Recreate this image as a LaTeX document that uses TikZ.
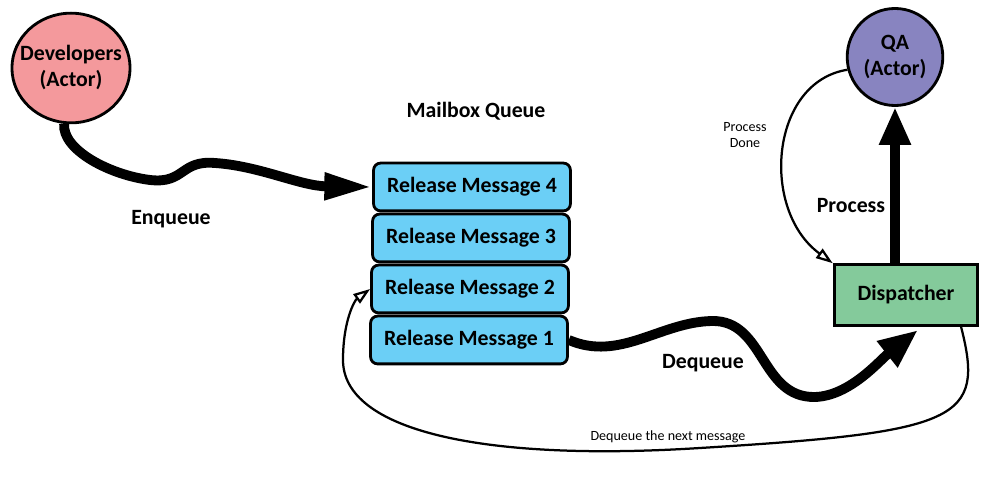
\documentclass[tikz,border=0pt]{standalone}
\usepackage{fontspec}
\setmainfont{Carlito}
\usetikzlibrary{arrows.meta,shapes.geometric}
\definecolor{devpink}{HTML}{F4999C}
\definecolor{qapurple}{HTML}{8884C0}
\definecolor{msgblue}{HTML}{6BCFF6}
\definecolor{dispgreen}{HTML}{84CA9B}
\newcommand{\zw}[1]{\makebox[0pt]{#1}}
\tikzset{
	actor/.style={ellipse, draw=black, line width=2pt, inner sep=0pt, align=center, font=\bfseries\fontsize{15.5}{19}\selectfont},
	msgbox/.style={rectangle, rounded corners=5pt, draw=black, line width=2pt, fill=msgblue, minimum width=140pt, minimum height=34pt, font=\bfseries\fontsize{15.5}{19}\selectfont},
	label/.style={font=\bfseries\fontsize{15.5}{19}\selectfont},
	smalllabel/.style={font=\fontsize{10}{12}\selectfont, align=center},
	bigarrow/.style={line width=7pt},
	thinarrow/.style={line width=1.6pt, -{Triangle[open, length=12pt, width=8pt, fill=white]}}
}
\begin{document}
\begin{tikzpicture}[x=0.025cm, y=-0.025cm]
		\useasboundingbox (0,0) rectangle (1008,504);
		\node[actor, fill=devpink, minimum width=84pt, minimum height=78pt] (dev) at (71,68) [] {\zw{}\\[-9pt]\zw{Developers}\\\zw{(Actor)}};
		\node[actor, fill=qapurple, minimum width=68pt, minimum height=69pt] (qa) at (895,57) [] {\zw{QA}\\\zw{(Actor)}};
		\node[label] (mailbox) at (476,111) [] {Mailbox Queue};
		\node[msgbox] (m4) at (472,187) [] {Release Message 4};
		\node[msgbox] (m3) at (471,238) [] {Release Message 3};
		\node[msgbox] (m2) at (470,289) [] {Release Message 2};
		\node[msgbox] (m1) at (469,340) [] {Release Message 1};
		\node[rectangle, draw=black, line width=2.2pt, fill=dispgreen, minimum width=102pt, minimum height=43pt, label] (disp) at (906,295) [] {Dispatcher};
		\node[label] (enq) at (171,219) [] {Enqueue};
		\node[label] (deq) at (703,363) [] {Dequeue};
		\node[label] (proc) at (851,206) [] {Process};
		\node[smalllabel] (done) at (745,135) [] {Process\\Done};
		\node[smalllabel] (next) at (668,437) [] {Dequeue the next message};
		% thick arrows
		\draw[bigarrow, -{Triangle[length=34pt, width=18pt]}] (dev.263) .. controls (62,150) and (110,175) .. (150,180) .. controls (185,184) and (180,160) .. (215,163) .. controls (260,166) and (300,186) .. (m4.west);
		\draw[bigarrow, -{Triangle[length=28pt, width=22pt]}] (m1.east) .. controls (620,362) and (660,322) .. (712,321) .. controls (765,320) and (760,398) .. (815,397) .. controls (850,396) and (880,360) .. (918,330);
		\draw[bigarrow, -{Triangle[length=27pt, width=21pt]}] (disp.north -| qa.south) -- (qa.south);
		% thin arrows
		\draw[thinarrow] (qa.195) .. controls (770,82) and (760,210) .. (disp.north west);
		\draw[thinarrow] (disp.330) .. controls (985,420) and (960,432) .. (700,448) .. controls (480,462) and (343,430) .. (343,360) .. controls (343,320) and (355,300) .. (m2.west);
	\end{tikzpicture}
\end{document}
